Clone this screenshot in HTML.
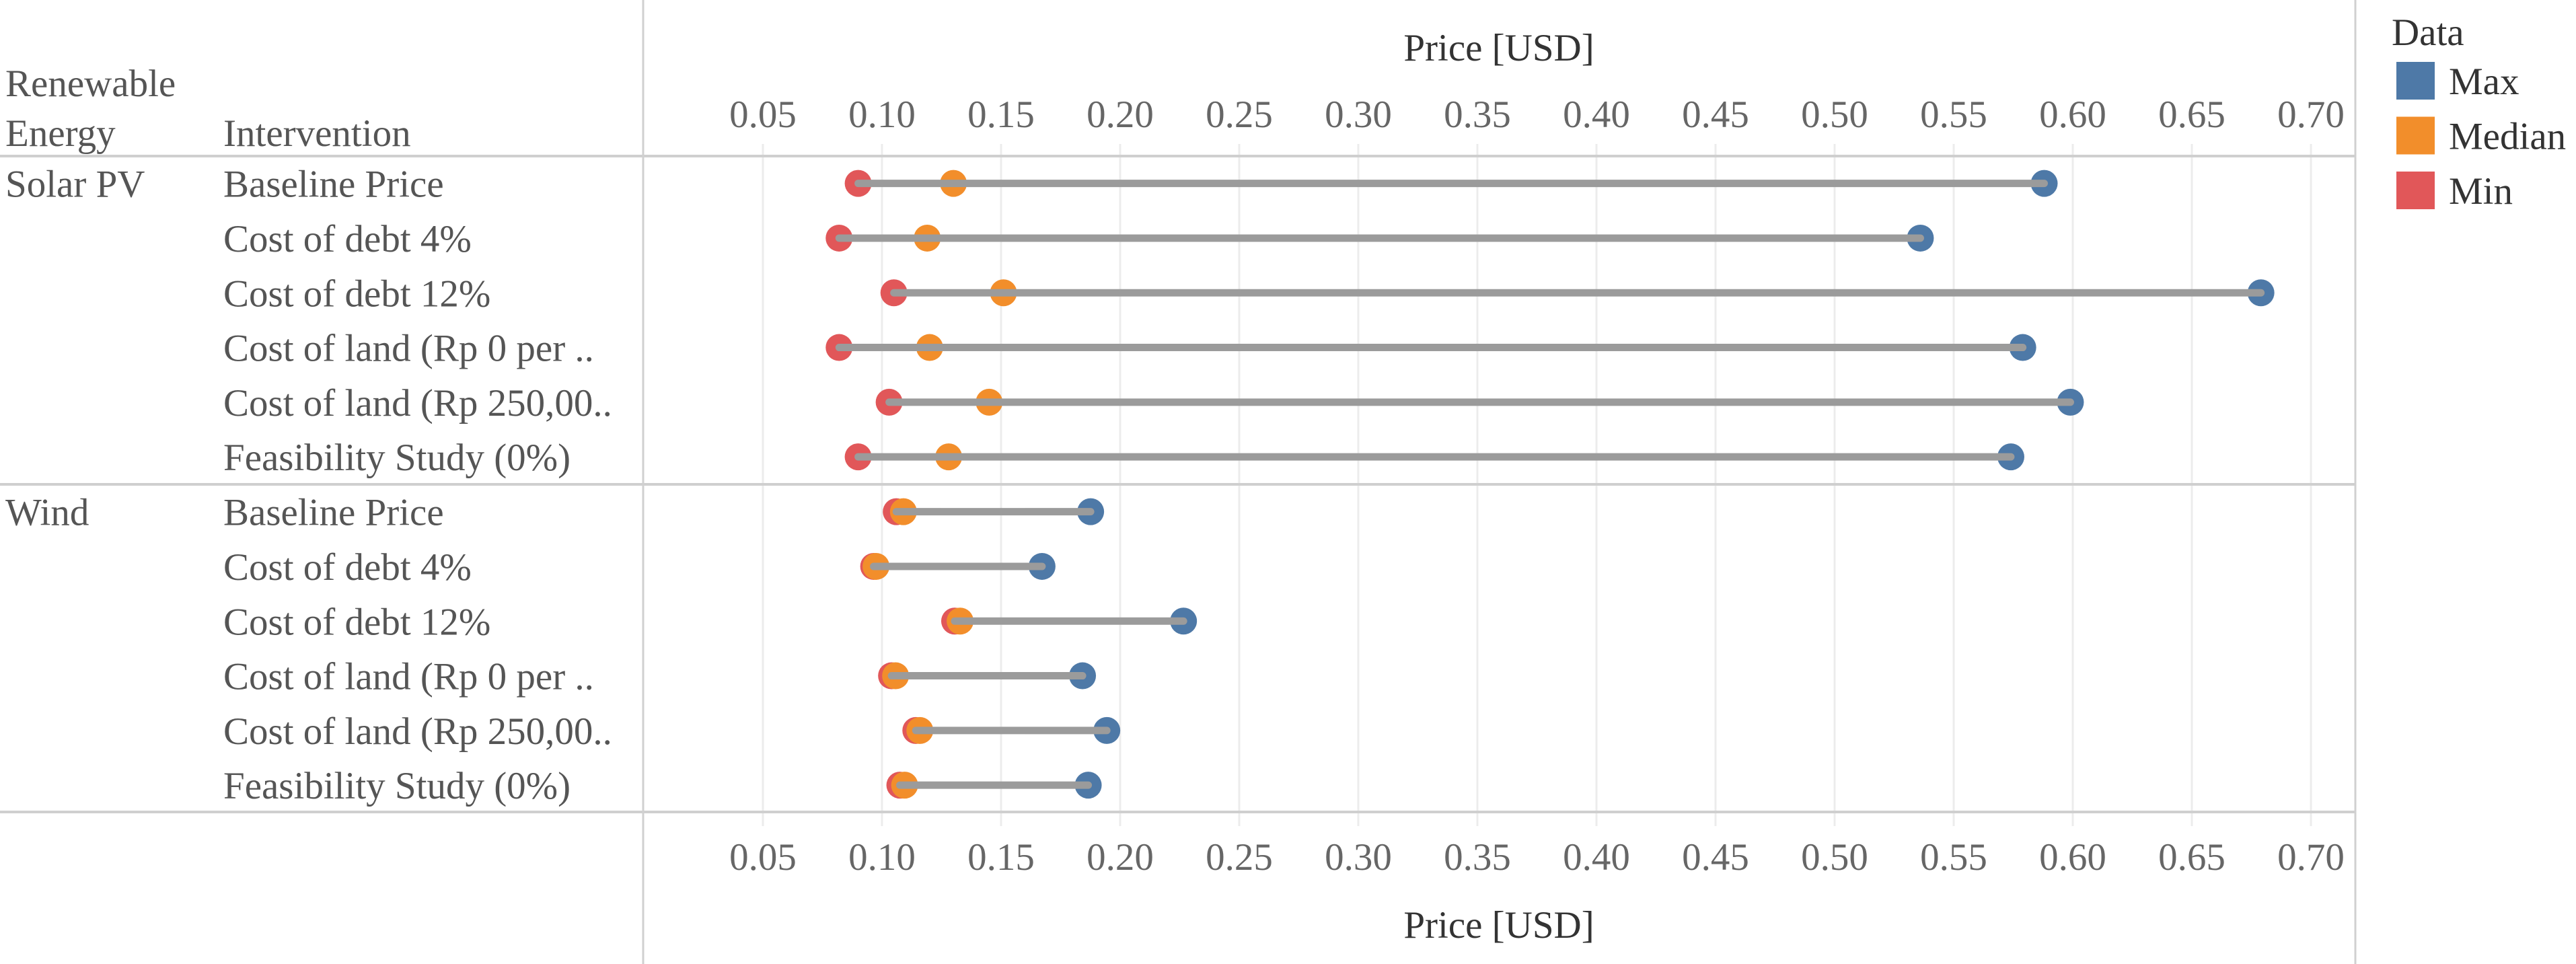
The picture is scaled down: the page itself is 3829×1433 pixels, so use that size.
<!DOCTYPE html>
<html><head><meta charset="utf-8">
<style>
html,body{margin:0;padding:0;background:#fff;}
svg{display:block;font-family:"Liberation Serif","Times New Roman",serif;}
</style></head>
<body>
<svg id="chart" width="3829" height="1433" viewBox="0 0 3829 1433" xmlns="http://www.w3.org/2000/svg">
<rect x="0" y="0" width="3829" height="1433" fill="#fff"/>
<g id="grid"></g>
<g id="frame"></g>
<g id="marks"></g>
<g id="labels"></g>
<g id="legend"></g>
</svg>
<script>
const groups = ["Solar PV","Wind"];
const interventions = ["Baseline Price","Cost of debt 4%","Cost of debt 12%","Cost of land (Rp 0 per ..","Cost of land (Rp 250,00..","Feasibility Study (0%)"];
const solarMin = [0.090,0.082,0.105,0.082,0.103,0.090];
const solarMedian = [0.130,0.119,0.151,0.120,0.145,0.128];
const solarMax = [0.588,0.536,0.679,0.579,0.599,0.574];
const windMin = [0.106,0.0965,0.1305,0.104,0.1142,0.1075];
const windMedian = [0.109,0.0975,0.1328,0.1057,0.1159,0.1095];
const windMax = [0.1876,0.1672,0.2266,0.1842,0.1944,0.1866];
const tickValues = [0.05,0.10,0.15,0.20,0.25,0.30,0.35,0.40,0.45,0.50,0.55,0.60,0.65,0.70];
const tickLabels = ["0.05","0.10","0.15","0.20","0.25","0.30","0.35","0.40","0.45","0.50","0.55","0.60","0.65","0.70"];
const legendLabels = ["Max","Median","Min"];

const NS="http://www.w3.org/2000/svg";
const FS=57;
const X0=1134, XSCALE=3540;
function xScale(v){return X0+(v-0.05)*XSCALE;}
const TOP=232, ROWH=81.3, SECH=488;
function yScale(g,i){return TOP+g*SECH+(i+0.5)*ROWH;}
function mk(tag,attrs,parent){const e=document.createElementNS(NS,tag);for(const k in attrs)e.setAttribute(k,attrs[k]);parent.appendChild(e);return e;}
const grid=document.getElementById('grid'),frame=document.getElementById('frame'),marks=document.getElementById('marks'),labels=document.getElementById('labels'),legend=document.getElementById('legend');

// gridlines
tickValues.forEach((v,i)=>{
  const x=xScale(v);
  let l=mk('line',{x1:x,x2:x,y1:TOP,y2:1207,stroke:'#ececec','stroke-width':3},grid);
  
  
  l=mk('line',{x1:x,x2:x,y1:214,y2:TOP,stroke:'#ececec','stroke-width':3},grid);
  
  
  l=mk('line',{x1:x,x2:x,y1:1207,y2:1228,stroke:'#ececec','stroke-width':3},grid);
  
  
  let t=mk('text',{x:x,y:189,'text-anchor':'middle','font-size':FS,fill:'#666'},labels);
  t.textContent=tickLabels[i];
  
  
  t=mk('text',{x:x,y:1293,'text-anchor':'middle','font-size':FS,fill:'#666'},labels);
  t.textContent=tickLabels[i];
  
  
});

// frame lines
[[0,3501,232,232,'header-divider'],[0,3501,720,720,'group-divider'],[0,3501,1207,1207,'bottom-divider']].forEach(a=>{
  const l=mk('line',{x1:a[0],x2:a[1],y1:a[2],y2:a[3],stroke:'#cfcfcf','stroke-width':4},frame);
  
  
});
[[956,'row-header-divider'],[3501,'legend-divider']].forEach(a=>{
  const l=mk('line',{x1:a[0],x2:a[0],y1:0,y2:1433,stroke:'#d0d0d0','stroke-width':3},frame);
  
  
});

// axis titles
let t=mk('text',{x:2228,y:90,'text-anchor':'middle','font-size':FS,fill:'#333'},labels);
t.textContent='Price [USD]';


t=mk('text',{x:2228,y:1394,'text-anchor':'middle','font-size':FS,fill:'#333'},labels);
t.textContent='Price [USD]';


t=mk('text',{x:8,y:143,'font-size':FS,fill:'#555'},labels);
t.textContent='Renewable';


t=mk('text',{x:8,y:217,'font-size':FS,fill:'#555'},labels);
t.textContent='Energy';


t=mk('text',{x:332,y:217,'font-size':FS,fill:'#555'},labels);
t.textContent='Intervention';



const mins=[solarMin,windMin],meds=[solarMedian,windMedian],maxs=[solarMax,windMax];
groups.forEach((g,gi)=>{
  const gt=mk('text',{x:8,y:yScale(gi,0)+20,'font-size':FS,fill:'#555'},labels);
  gt.textContent=g;
  
  
  interventions.forEach((iv,i)=>{
    const y=yScale(gi,i);
    const rl=mk('text',{x:332,y:y+20,'font-size':FS,fill:'#555'},labels);
    rl.textContent=iv;
    
    
    const r=20;
    const cMin=mk('circle',{cx:xScale(mins[gi][i]),cy:y,r:r,fill:'#e15759'},marks);
    
    
    const cMed=mk('circle',{cx:xScale(meds[gi][i]),cy:y,r:r,fill:'#f28e2b'},marks);
    
    
    const cMax=mk('circle',{cx:xScale(maxs[gi][i]),cy:y,r:r,fill:'#4e79a7'},marks);
    
    
    const ln=mk('line',{x1:xScale(mins[gi][i]),x2:xScale(maxs[gi][i]),y1:y,y2:y,stroke:'#9b9b9b','stroke-width':11,'stroke-linecap':'round'},marks);
    
    
  });
});

// legend
t=mk('text',{x:3555,y:67,'font-size':FS,fill:'#333'},legend);
t.textContent='Data';


const legColors=['#4e79a7','#f28e2b','#e15759'];
legendLabels.forEach((lab,i)=>{
  const y0=92+i*81.5;
  const s=mk('rect',{x:3562,y:y0,width:57,height:56,fill:legColors[i]},legend);
  
  
  const lt=mk('text',{x:3640,y:y0+48,'font-size':FS,fill:'#333'},legend);
  lt.textContent=lab;
  
  
});
</script>
</body></html>
